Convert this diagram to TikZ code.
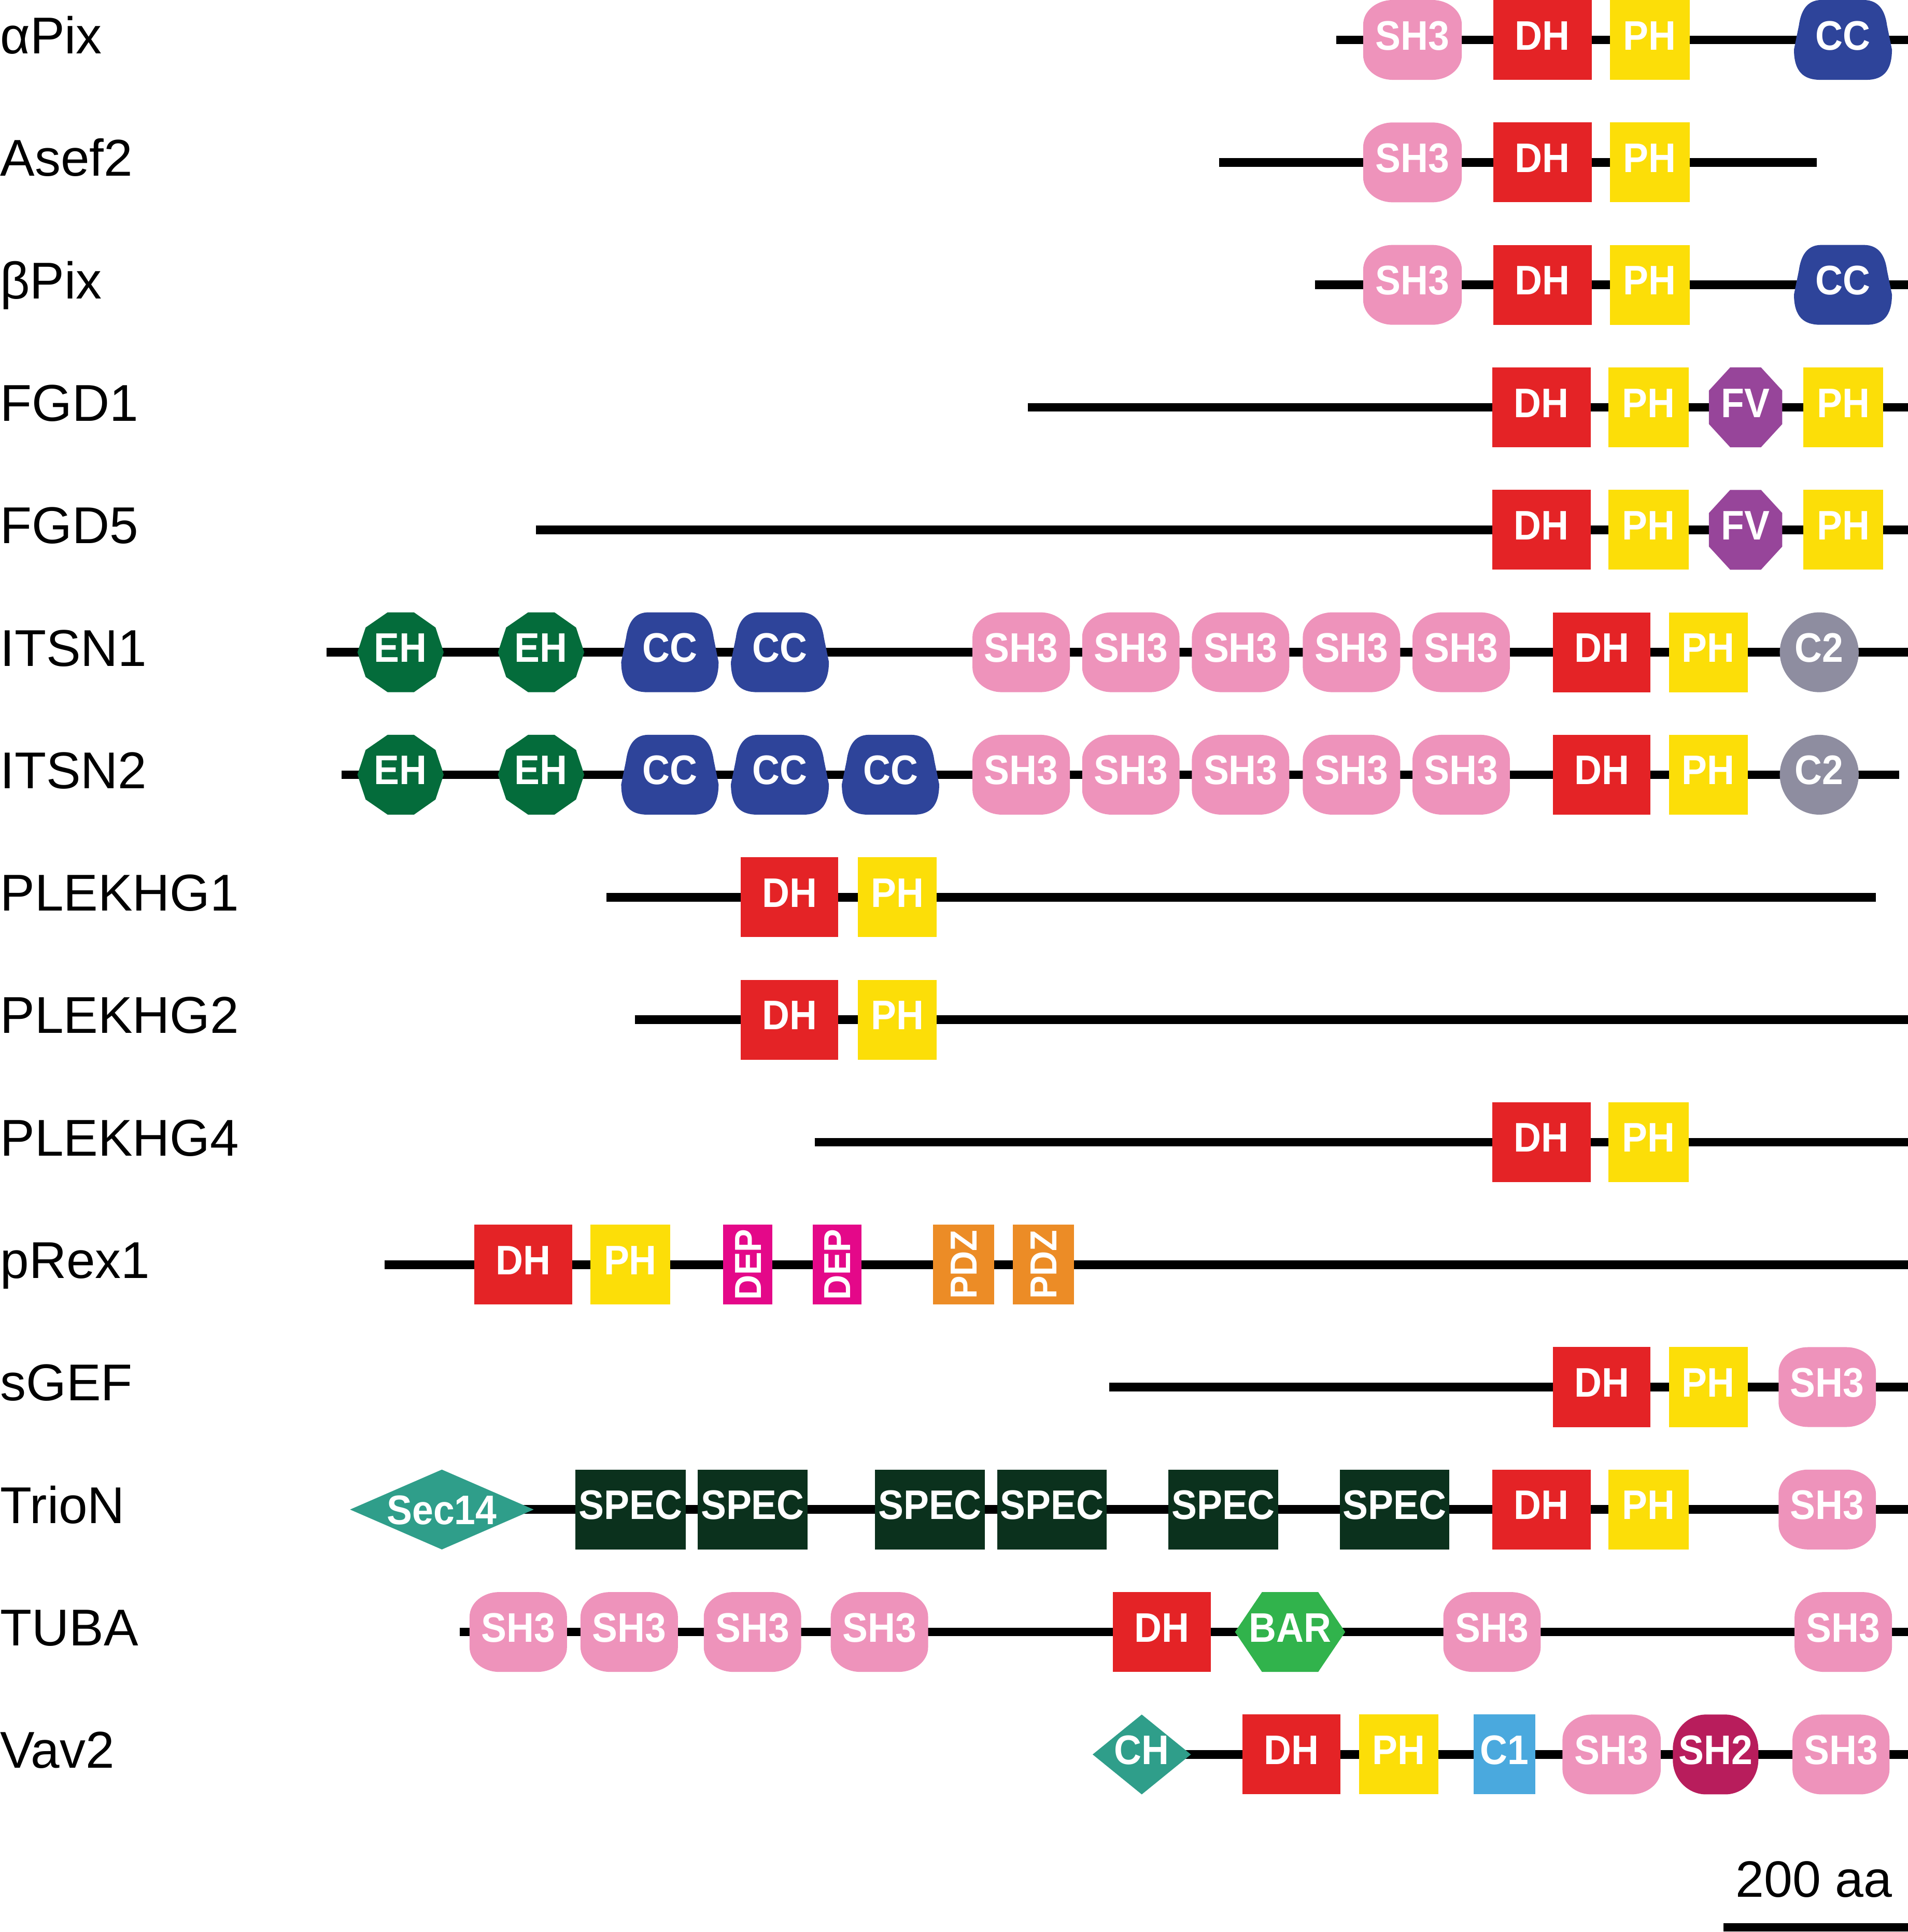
\documentclass[tikz,border=0pt]{standalone}
\usepackage{fontspec}
\setmainfont{Liberation Sans}
\newfontfamily\domfam[FakeStretch=0.92]{Liberation Sans}
\definecolor{cSH}{RGB}{238,147,187}
\definecolor{cDH}{RGB}{228,35,38}
\definecolor{cPH}{RGB}{252,222,8}
\definecolor{cCC}{RGB}{46,68,154}
\definecolor{cEH}{RGB}{4,108,59}
\definecolor{cFV}{RGB}{151,69,154}
\definecolor{cCtwo}{RGB}{142,141,160}
\definecolor{cDEP}{RGB}{228,8,137}
\definecolor{cPDZ}{RGB}{236,140,38}
\definecolor{cTEAL}{RGB}{47,158,138}
\definecolor{cSPEC}{RGB}{11,49,29}
\definecolor{cBAR}{RGB}{49,179,76}
\definecolor{cCone}{RGB}{74,169,222}
\definecolor{cSHtwo}{RGB}{184,29,92}
\tikzset{
 backbone/.style={line width=7pt, black},
 dtxt/.style={text=white, inner sep=0pt, anchor=base, font=\fontsize{33.5}{33.5}\domfam\bfseries},
 vtxt/.style={text=white, inner sep=0pt, anchor=base, rotate=90, font=\fontsize{30.5}{30.5}\domfam\bfseries},
 lbl/.style={inner sep=0pt, anchor=base west, font=\fontsize{42}{42}\selectfont},
}
% backbone: name x1 x2 y
\newcommand\bb[4]{\coordinate (#1s) at (#2,#4); \coordinate (#1e) at (#3,#4); \draw[backbone] (#1s) -- (#1e);}
% rectangle domain: name color x1 x2 y text
\newcommand\Rdom[6]{\fill[#2] (#3,{#5-32.4}) rectangle (#4,{#5+32.4});
 \node[dtxt] (#1) at ({(#3+#4)/2},{#5+8}) {#6};}
% rounded domain with elliptic corners: name color x1 x2 y text rx ry
\newcommand\RRdom[8]{\fill[#2] ({#3+#7},{#5-32.4}) -- ({#4-#7},{#5-32.4})
 .. controls ({#4-0.448*#7},{#5-32.4}) and (#4,{#5-32.4+0.448*#8}) .. (#4,{#5-32.4+#8})
 -- (#4,{#5+32.4-#8})
 .. controls (#4,{#5+32.4-0.448*#8}) and ({#4-0.448*#7},{#5+32.4}) .. ({#4-#7},{#5+32.4})
 -- ({#3+#7},{#5+32.4})
 .. controls ({#3+0.448*#7},{#5+32.4}) and (#3,{#5+32.4-0.448*#8}) .. (#3,{#5+32.4-#8})
 -- (#3,{#5-32.4+#8})
 .. controls (#3,{#5-32.4+0.448*#8}) and ({#3+0.448*#7},{#5-32.4}) .. ({#3+#7},{#5-32.4}) -- cycle;
 \node[dtxt] (#1) at ({(#3+#4)/2},{#5+8}) {#6};}
\newcommand\Sdom[4]{\RRdom{#1}{cSH}{#2}{#3}{#4}{SH3}{24}{20}}
% CC: name x1 x2 y
\newcommand\CCdom[4]{\begin{scope}[shift={(#2,{#4-32.4})},xscale={#3-#2},yscale=64.8]
 \fill[cCC] (0.28,0) -- (0.71,0) .. controls (0.87,0) and (0.93,0.14) .. (0.95,0.32)
 -- (1,0.62) .. controls (1,0.9) and (0.9,1) .. (0.74,1) -- (0.27,1)
 .. controls (0.1,1) and (0,0.9) .. (0,0.62) -- (0.05,0.32)
 .. controls (0.07,0.14) and (0.13,0) .. (0.28,0) -- cycle;\end{scope}
 \node[dtxt] (#1) at ({(#2+#3)/2},{#4+8}) {CC};}
% EH: name x1 x2 y
\newcommand\EHdom[4]{\begin{scope}[shift={(#2,{#4-32.4})},xscale={#3-#2},yscale=64.8]
 \fill[cEH] (0.35,0)--(0.655,0)--(0.905,0.19)--(1,0.5)--(0.905,0.81)--(0.655,1)--(0.35,1)--(0.095,0.81)--(0,0.5)--(0.095,0.19)--cycle;\end{scope}
 \node[dtxt] (#1) at ({(#2+#3)/2},{#4+8}) {EH};}
% FV: name x1 x2 y
\newcommand\FVdom[4]{\begin{scope}[shift={(#2,{#4-32.4})},xscale={#3-#2},yscale=64.8]
 \fill[cFV] (0.29,0)--(0.71,0)--(1,0.29)--(1,0.71)--(0.71,1)--(0.29,1)--(0,0.71)--(0,0.29)--cycle;\end{scope}
 \node[dtxt] (#1) at ({(#2+#3)/2},{#4+8}) {FV};}
% BAR: name x1 x2 y
\newcommand\BARdom[4]{\begin{scope}[shift={(#2,{#4-32.4})},xscale={#3-#2},yscale=64.8]
 \fill[cBAR] (0,0.5)--(0.245,0)--(0.755,0)--(1,0.5)--(0.755,1)--(0.245,1)--cycle;\end{scope}
 \node[dtxt] (#1) at ({(#2+#3)/2},{#4+8}) {BAR};}
% diamond: name x1 x2 y text textshift
\newcommand\DIAdom[6]{\begin{scope}[shift={(#2,{#4-32.4})},xscale={#3-#2},yscale=64.8]
 \fill[cTEAL] (0,0.5)--(0.5,0)--(1,0.5)--(0.5,1)--cycle;\end{scope}
 \node[dtxt] (#1) at ({(#2+#3)/2},{#4+#6}) {#5};}
% vertical text box: name color x1 x2 y text
\newcommand\Vdom[6]{\fill[#2] (#3,{#5-32.4}) rectangle (#4,{#5+32.4});
 \node[vtxt] (#1) at ({(#3+#4)/2+10.9},#5) {#6};}
\begin{document}
\begin{tikzpicture}[x=1pt,y=-1pt]
\useasboundingbox (0,0) rectangle (1548,1567.8);
% ---------- labels
\node[lbl] (l0) at (0,43.5) {αPix};
\node[lbl] (l1) at (0,142.88) {Asef2};
\node[lbl] (l2) at (0,242.26) {βPix};
\node[lbl] (l3) at (0,341.64) {FGD1};
\node[lbl] (l4) at (0,441.02) {FGD5};
\node[lbl] (l5) at (0,540.4) {ITSN1};
\node[lbl] (l6) at (0,639.78) {ITSN2};
\node[lbl] (l7) at (0,739.16) {PLEKHG1};
\node[lbl] (l8) at (0,838.54) {PLEKHG2};
\node[lbl] (l9) at (0,937.92) {PLEKHG4};
\node[lbl] (l10) at (0,1037.3) {pRex1};
\node[lbl] (l11) at (0,1136.68) {sGEF};
\node[lbl] (l12) at (0,1236.06) {TrioN};
\node[lbl] (l13) at (0,1335.44) {TUBA};
\node[lbl] (l14) at (0,1434.82) {Vav2};
% ---------- backbones
\bb{r0}{1084.3}{1548}{32.4}
\bb{r1}{989}{1474}{131.78}
\bb{r2}{1067}{1548}{231.16}
\bb{r3}{834}{1548}{330.54}
\bb{r4}{435}{1548}{429.92}
\bb{r5}{265}{1548}{529.3}
\bb{r6}{277}{1541}{628.68}
\bb{r7}{492}{1522}{728.06}
\bb{r8}{515}{1548}{827.44}
\bb{r9}{661}{1548}{926.82}
\bb{r10}{312}{1548}{1026.2}
\bb{r11}{900}{1548}{1125.58}
\bb{r12}{358.5}{1548}{1224.96}
\bb{r13}{373}{1548}{1324.34}
\bb{r14}{926}{1548}{1423.72}
% ---------- alphaPix
\Sdom{a1}{1106}{1186}{32.4}
\Rdom{a2}{cDH}{1211.5}{1291.4}{32.4}{DH}
\Rdom{a3}{cPH}{1306}{1371}{32.4}{PH}
\CCdom{a4}{1455.5}{1535}{32.4}
% ---------- Asef2
\Sdom{b1}{1106}{1186}{131.78}
\Rdom{b2}{cDH}{1211.5}{1291.4}{131.78}{DH}
\Rdom{b3}{cPH}{1306}{1371}{131.78}{PH}
% ---------- betaPix
\Sdom{c1}{1106}{1186}{231.16}
\Rdom{c2}{cDH}{1211.5}{1291.4}{231.16}{DH}
\Rdom{c3}{cPH}{1306}{1371}{231.16}{PH}
\CCdom{c4}{1455.5}{1535}{231.16}
% ---------- FGD1
\Rdom{d1}{cDH}{1210.7}{1290.6}{330.54}{DH}
\Rdom{d2}{cPH}{1305}{1370}{330.54}{PH}
\FVdom{d3}{1386.5}{1446}{330.54}
\Rdom{d4}{cPH}{1463}{1528}{330.54}{PH}
% ---------- FGD5
\Rdom{e1}{cDH}{1210.7}{1290.6}{429.92}{DH}
\Rdom{e2}{cPH}{1305}{1370}{429.92}{PH}
\FVdom{e3}{1386.5}{1446}{429.92}
\Rdom{e4}{cPH}{1463}{1528}{429.92}{PH}
% ---------- ITSN1
\EHdom{f1}{290}{360}{529.3}
\EHdom{f2}{404}{474}{529.3}
\CCdom{f3}{504}{583}{529.3}
\CCdom{f4}{593}{672.5}{529.3}
\Sdom{f5}{789}{868}{529.3}
\Sdom{f6}{878}{957}{529.3}
\Sdom{f7}{967}{1046}{529.3}
\Sdom{f8}{1057}{1136}{529.3}
\Sdom{f9}{1146}{1225}{529.3}
\Rdom{f10}{cDH}{1260}{1339}{529.3}{DH}
\Rdom{f11}{cPH}{1354}{1418}{529.3}{PH}
\fill[cCtwo] (1476,529.3) ellipse [x radius=32, y radius=32.4];
\node[dtxt] (f12) at (1476,537.3) {C2};
% ---------- ITSN2
\EHdom{g1}{290}{360}{628.68}
\EHdom{g2}{404}{474}{628.68}
\CCdom{g3}{504}{583}{628.68}
\CCdom{g4}{593}{672.5}{628.68}
\CCdom{g5}{683}{762}{628.68}
\Sdom{g6}{789}{868}{628.68}
\Sdom{g7}{878}{957}{628.68}
\Sdom{g8}{967}{1046}{628.68}
\Sdom{g9}{1057}{1136}{628.68}
\Sdom{g10}{1146}{1225}{628.68}
\Rdom{g11}{cDH}{1260}{1339}{628.68}{DH}
\Rdom{g12}{cPH}{1354}{1418}{628.68}{PH}
\fill[cCtwo] (1476,628.68) ellipse [x radius=32, y radius=32.4];
\node[dtxt] (g13) at (1476,636.68) {C2};
% ---------- PLEKHG1
\Rdom{h1}{cDH}{601}{680}{728.06}{DH}
\Rdom{h2}{cPH}{696}{760}{728.06}{PH}
% ---------- PLEKHG2
\Rdom{i1}{cDH}{601}{680}{827.44}{DH}
\Rdom{i2}{cPH}{696}{760}{827.44}{PH}
% ---------- PLEKHG4
\Rdom{j1}{cDH}{1210.7}{1290.6}{926.82}{DH}
\Rdom{j2}{cPH}{1305}{1370}{926.82}{PH}
% ---------- pRex1
\Rdom{k1}{cDH}{384.7}{464.3}{1026.2}{DH}
\Rdom{k2}{cPH}{479}{543.7}{1026.2}{PH}
\Vdom{k3}{cDEP}{586.6}{626.6}{1026.2}{DEP}
\Vdom{k4}{cDEP}{659.4}{699}{1026.2}{DEP}
\Vdom{k5}{cPDZ}{757}{806.6}{1026.2}{PDZ}
\Vdom{k6}{cPDZ}{821.6}{871.3}{1026.2}{PDZ}
% ---------- sGEF
\Rdom{m1}{cDH}{1260}{1339}{1125.58}{DH}
\Rdom{m2}{cPH}{1354}{1418}{1125.58}{PH}
\Sdom{m3}{1443}{1522}{1125.58}
% ---------- TrioN
\DIAdom{n1}{284}{433}{1224.96}{Sec14}{12}
\Rdom{n2}{cSPEC}{466.8}{556.3}{1224.96}{SPEC}
\Rdom{n3}{cSPEC}{566}{655.2}{1224.96}{SPEC}
\Rdom{n4}{cSPEC}{710}{799}{1224.96}{SPEC}
\Rdom{n5}{cSPEC}{809}{898}{1224.96}{SPEC}
\Rdom{n6}{cSPEC}{948}{1037}{1224.96}{SPEC}
\Rdom{n7}{cSPEC}{1087}{1176}{1224.96}{SPEC}
\Rdom{n8}{cDH}{1210.7}{1290.6}{1224.96}{DH}
\Rdom{n9}{cPH}{1305}{1370}{1224.96}{PH}
\Sdom{n10}{1443}{1522}{1224.96}
% ---------- TUBA
\Sdom{o1}{381}{460}{1324.34}
\Sdom{o2}{471}{550}{1324.34}
\Sdom{o3}{571}{650}{1324.34}
\Sdom{o4}{674}{753}{1324.34}
\Rdom{o5}{cDH}{902.7}{982.3}{1324.34}{DH}
\BARdom{o6}{1002}{1091.4}{1324.34}
\Sdom{o7}{1171}{1250}{1324.34}
\Sdom{o8}{1456}{1535}{1324.34}
% ---------- Vav2
\DIAdom{p1}{886.5}{966.2}{1423.72}{CH}{8}
\Rdom{p2}{cDH}{1008}{1087.5}{1423.72}{DH}
\Rdom{p3}{cPH}{1102.5}{1166.8}{1423.72}{PH}
\Rdom{p4}{cCone}{1195.8}{1245.7}{1423.72}{C1}
\Sdom{p5}{1267.7}{1347.4}{1423.72}
\RRdom{p6}{cSHtwo}{1357.2}{1426.6}{1423.72}{SH2}{27}{28}
\Sdom{p7}{1454.3}{1533}{1423.72}
% ---------- scale bar
\coordinate (sbs) at (1398.5,1564);
\coordinate (sbe) at (1548,1564);
\draw[backbone] (sbs) -- (sbe);
\node[lbl, font=\fontsize{41.5}{41.5}\selectfont] (sbt) at (1408,1539.2) {200 aa};
\end{tikzpicture}
\end{document}
